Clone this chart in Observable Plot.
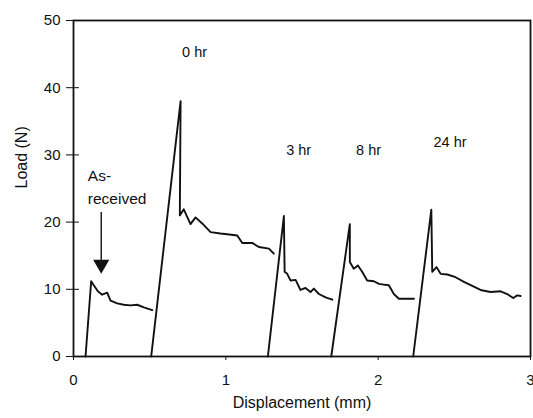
<!DOCTYPE html>
<html>
<head>
<meta charset="utf-8">
<script src="https://cdn.jsdelivr.net/npm/d3@7"></script>
<script src="https://cdn.jsdelivr.net/npm/@observablehq/plot@0.6"></script>
<style>
  html, body { margin: 0; padding: 0; background: #fff; }
</style>
</head>
<body>
<div id="chart"></div>
<script>
// Load–displacement traces for each specimen condition
const asReceivedX = [0.079, 0.116, 0.133, 0.160, 0.188, 0.221, 0.243, 0.287, 0.330, 0.374, 0.418, 0.462, 0.517];
const asReceivedY = [0, 11.2, 10.6, 9.7, 9.2, 9.5, 8.3, 7.9, 7.7, 7.6, 7.7, 7.3, 6.9];

const hr0X = [0.510, 0.703, 0.698, 0.724, 0.768, 0.801, 0.845, 0.900, 0.965, 1.009, 1.075, 1.108, 1.173, 1.217, 1.283, 1.315];
const hr0Y = [0, 38.0, 21.0, 21.9, 19.7, 20.7, 19.8, 18.5, 18.3, 18.2, 18.0, 16.9, 16.9, 16.3, 16.05, 15.3];

const hr3X = [1.276, 1.381, 1.386, 1.403, 1.425, 1.458, 1.490, 1.523, 1.556, 1.578, 1.611, 1.655, 1.699];
const hr3Y = [0, 20.9, 12.6, 12.3, 11.3, 11.4, 9.9, 10.2, 9.6, 10.1, 9.3, 8.8, 8.45];

const hr8X = [1.692, 1.814, 1.814, 1.840, 1.867, 1.895, 1.928, 1.972, 2.005, 2.037, 2.070, 2.103, 2.136, 2.190, 2.235];
const hr8Y = [0, 19.7, 14.05, 13.05, 13.55, 12.6, 11.3, 11.2, 10.8, 10.7, 10.6, 9.3, 8.6, 8.6, 8.6];

const hr24X = [2.230, 2.349, 2.355, 2.383, 2.410, 2.454, 2.508, 2.563, 2.618, 2.672, 2.738, 2.804, 2.847, 2.887, 2.913, 2.935];
const hr24Y = [0, 21.85, 12.6, 13.3, 12.3, 12.2, 11.8, 11.1, 10.5, 9.9, 9.6, 9.7, 9.3, 8.7, 9.1, 9.0];

const xTicks = [0, 1, 2, 3];
const yTicks = [0, 10, 20, 30, 40, 50];

// Condition labels and where they sit in data space
const labelText = ["0 hr", "3 hr", "8 hr", "24 hr"];
const labelX = [0.795, 1.478, 1.937, 2.472];
const labelY = [45.3, 30.7, 30.7, 31.8];

// Two-line note and arrow pointing to the as-received trace
const noteLines = ["As-", "received"];
const noteX = 0.094;
const noteY = [26.9, 23.4];
const arrowX = 0.182;
const arrowTop = 21.5;
const arrowTip = 12.4;

const series = [
  ["As-received", asReceivedX, asReceivedY],
  ["0 hr", hr0X, hr0Y],
  ["3 hr", hr3X, hr3Y],
  ["8 hr", hr8X, hr8Y],
  ["24 hr", hr24X, hr24Y]
];
const rows = series.flatMap(([name, xs, ys]) => xs.map((x, i) => ({name, x, y: ys[i]})));
const labels = labelText.map((t, i) => ({t, x: labelX[i], y: labelY[i]}));
const note = noteLines.map((t, i) => ({t, x: noteX, y: noteY[i]}));

const chart = Plot.plot({
  width: 533,
  height: 418,
  marginLeft: 73,
  marginRight: 3,
  marginTop: 20,
  marginBottom: 62,
  style: {fontFamily: "'Liberation Sans', Arial, sans-serif", fontSize: "15px", color: "#111", background: "#fff"},
  x: {domain: [0, 3]},
  y: {domain: [0, 50]},
  marks: [
    Plot.frame({stroke: "#111", strokeWidth: 1.8}),
    Plot.axisX({ticks: xTicks, tickFormat: d3.format("d"), tickSize: 4, tickPadding: 14, label: null, fontSize: 15}),
    Plot.axisY({ticks: yTicks, tickFormat: d3.format("d"), tickSize: 7, tickPadding: 6, label: null, fontSize: 15}),
    Plot.axisY({ticks: yTicks, tickSize: -6, text: null, label: null}),
    Plot.line(rows, {x: "x", y: "y", z: "name", stroke: "#111", strokeWidth: 1.9, strokeLinejoin: "round"}),
    Plot.text(labels, {x: "x", y: "y", text: "t", fontSize: 14.5, fill: "#111"}),
    Plot.text(note, {x: "x", y: "y", text: "t", textAnchor: "start", fontSize: 15.5, fill: "#111"}),
    Plot.link([0], {x1: () => arrowX, x2: () => arrowX, y1: () => arrowTop, y2: () => arrowTip + 1.5, stroke: "#111", strokeWidth: 1.4}),
    Plot.dot([0], {x: () => arrowX, y: () => arrowTip + 1.3, symbol: "triangle", rotate: 180, r: 6, fill: "#111", stroke: "none"}),
    Plot.text(["Displacement (mm)"], {frameAnchor: "bottom", dy: 51, fontSize: 16, fill: "#111"}),
    Plot.text(["Load (N)"], {frameAnchor: "left", dx: -52, rotate: -90, fontSize: 16, fill: "#111"})
  ]
});

document.getElementById("chart").appendChild(chart);
</script>
</body>
</html>
